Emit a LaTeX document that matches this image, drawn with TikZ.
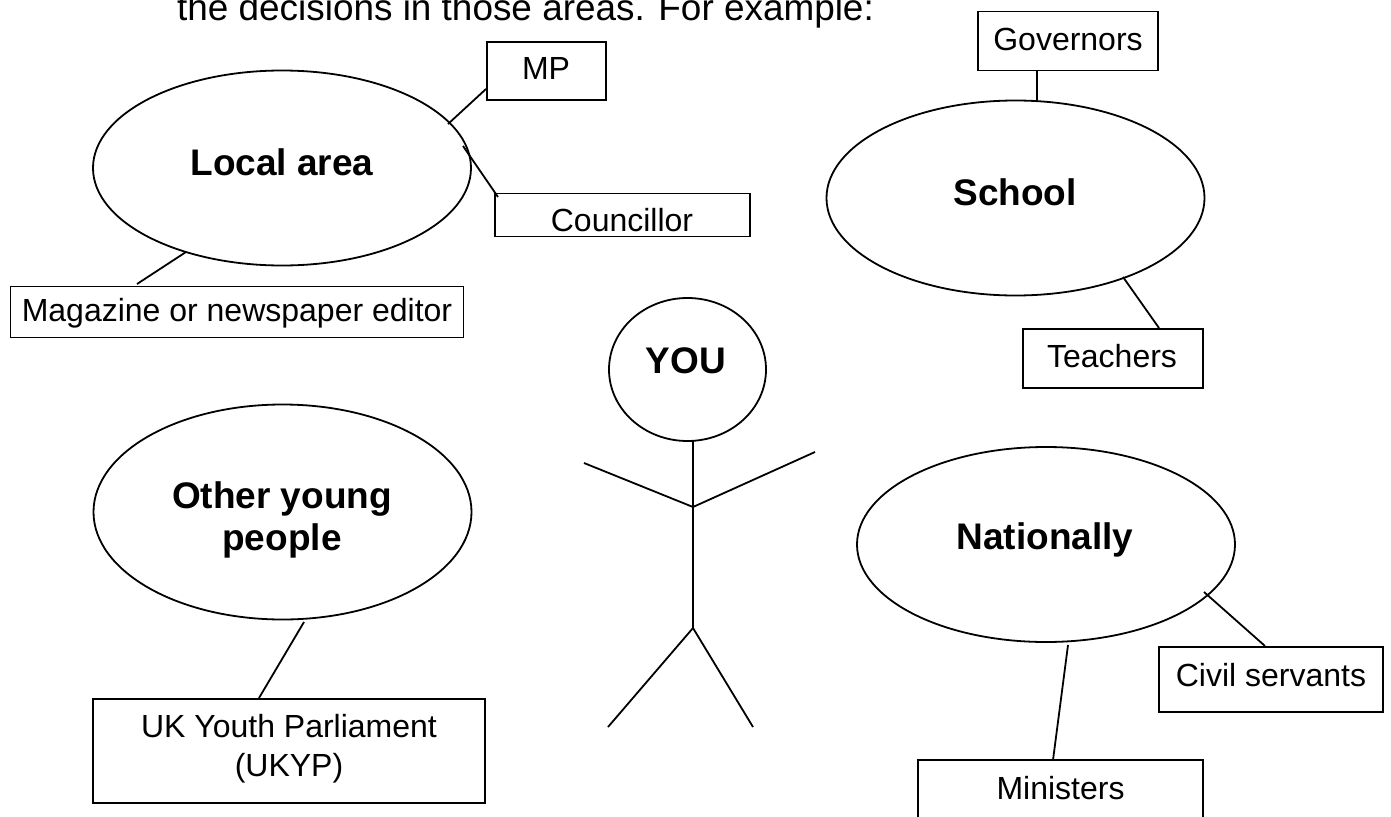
\documentclass[tikz,border=0pt]{standalone}
\usepackage{fontspec}
\setmainfont{Liberation Sans}
\usetikzlibrary{shapes.geometric}
\tikzset{
  x=1pt,y=-1pt,
  line/.style={draw=black,line width=1.8pt},
  oval/.style={ellipse,line,minimum width=378pt,minimum height=195pt,inner sep=0pt},
  head/.style={inner sep=0pt,font=\fontsize{37}{42}\selectfont\bfseries,align=center},
  lab/.style={rectangle,line,inner sep=0pt},
  txt/.style={inner sep=0pt,font=\fontsize{32}{39}\selectfont,align=center},
  plain/.style={inner sep=0pt,font=\fontsize{36.9}{42}\selectfont,anchor=base west}
}
\begin{document}
\begin{tikzpicture}
\useasboundingbox (0,0) rectangle (1391,816);
\fill[white] (0,0) rectangle (1391,816);
\node[plain] (top) at (177,20.7) {the decisions in those areas. For example:};
% ovals
\node[oval] (local) at (282,168) {};
\node[head] (localt) at (282,162) {Local area};
\node[oval] (school) at (1015.5,198) {};
\node[head] (schoolt) at (1015,192) {School};
\node[oval,minimum height=215pt] (young) at (282.5,512) {};
\node[head] (youngt) at (282,520) {Other young\\people};
\node[oval] (nat) at (1046,544.5) {};
\node[head] (natt) at (1045,540) {Nationally};
\node[ellipse,line,minimum width=157pt,minimum height=143pt,inner sep=0pt] (you) at (687.5,369.5) {};
\node[head] (youtxt) at (686,361) {YOU};
% boxes
\node[lab,minimum width=119pt,minimum height=58pt] (mp) at (546.5,71) {};
\node[txt] (mpt) at (546,68) {MP};
\node[lab,minimum width=255pt,minimum height=43pt] (coun) at (622.5,215) {};
\node[txt] (count) at (622,220) {Councillor};
\node[lab,minimum width=453pt,minimum height=51pt] (mag) at (237,312) {};
\node[txt] (magt) at (237,313) {Magazine or newspaper editor};
\node[lab,minimum width=180pt,minimum height=59pt] (gov) at (1068,41) {};
\node[txt] (govt) at (1068,39) {Governors};
\node[lab,minimum width=180pt,minimum height=59pt] (teach) at (1113,358.5) {};
\node[txt] (teacht) at (1112,356) {Teachers};
\node[lab,minimum width=392pt,minimum height=104pt] (ukyp) at (289,751) {};
\node[txt] (ukypt) at (289,748.5) {UK Youth Parliament\\(UKYP)};
\node[lab,minimum width=224pt,minimum height=65pt] (civ) at (1271,679.5) {};
\node[txt] (civt) at (1271,675) {Civil servants};
\node[lab,minimum width=285pt,minimum height=70pt] (min) at (1060.5,795) {};
\node[txt] (mint) at (1060.5,788) {Ministers};
% connector anchors
\coordinate (a1) at (448,124);
\coordinate (a2) at (463,146);
\coordinate (a3) at (186,252);
\coordinate (a4) at (1123,277);
\coordinate (a5) at (304,622);
\coordinate (a6) at (1204,592);
\coordinate (a7) at (1068,645);
\coordinate (a8) at (1037,101);
\coordinate (b1) at (486,89);
\coordinate (b2) at (498,197);
\coordinate (b3) at (137,284);
\coordinate (b4) at (1159,328);
\coordinate (b5) at (259,698);
\coordinate (b6) at (1265,646);
\coordinate (b7) at (1053,760);
\coordinate (b8) at (1037,70);
\draw[line] (a1)--(b1);
\draw[line] (a2)--(b2);
\draw[line] (a3)--(b3);
\draw[line] (a4)--(b4);
\draw[line] (a5)--(b5);
\draw[line] (a6)--(b6);
\draw[line] (a7)--(b7);
\draw[line] (a8)--(b8);
% figure
\coordinate (neck) at (693,441);
\coordinate (hip) at (693,628);
\coordinate (chest) at (693,507);
\coordinate (handl) at (584,463);
\coordinate (handr) at (815,452);
\coordinate (footl) at (608,727);
\coordinate (footr) at (753,727);
\draw[line] (neck)--(hip);
\draw[line] (handl)--(chest)--(handr);
\draw[line] (footl)--(hip)--(footr);
\end{tikzpicture}
\end{document}
